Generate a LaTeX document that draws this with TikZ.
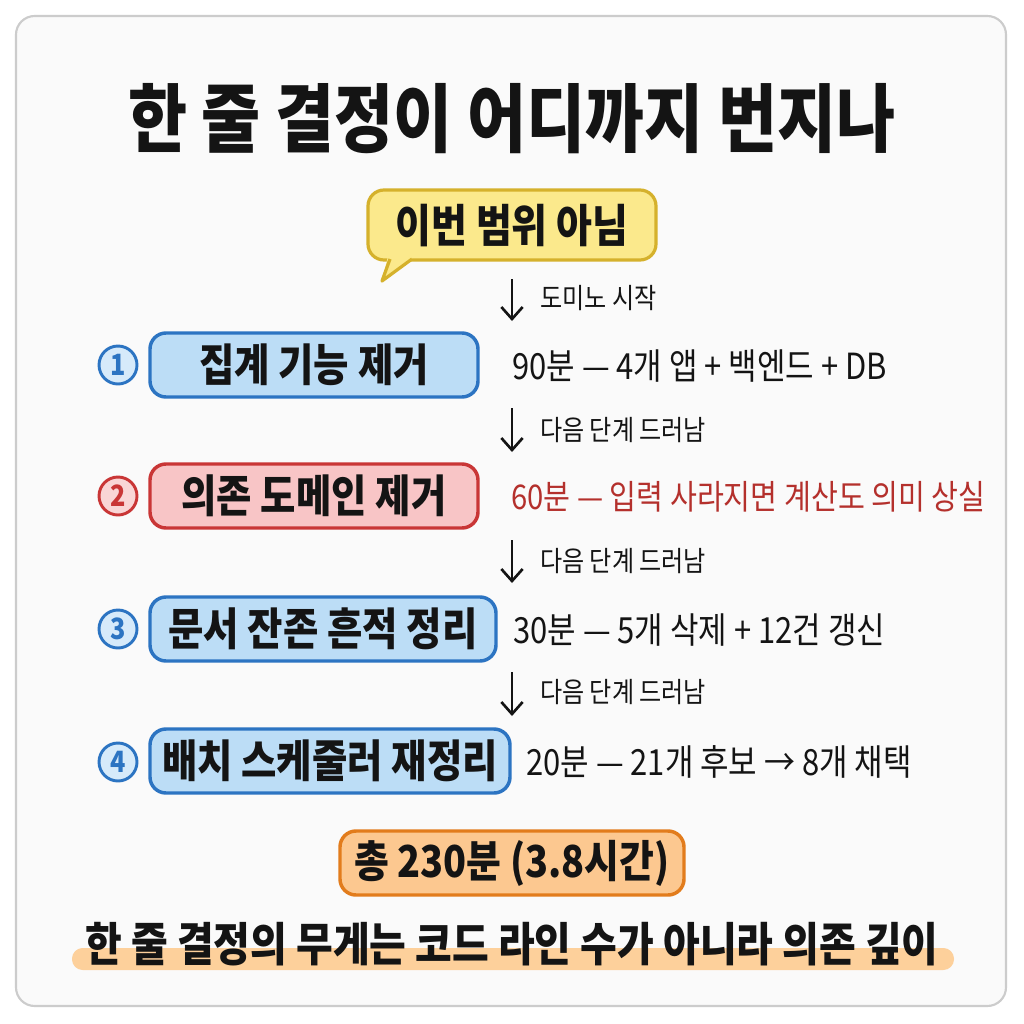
\documentclass[tikz,border=0pt]{standalone}
\usepackage{fontspec}
\newfontfamily\krfont[FakeStretch=0.86]{Noto Sans CJK KR}
\usetikzlibrary{arrows.meta}
\definecolor{bbord}{HTML}{2C74C2}
\definecolor{bfill}{HTML}{BCDDF6}
\definecolor{bcirc}{HTML}{D6EAFA}
\definecolor{rbord}{HTML}{C93636}
\definecolor{rfill}{HTML}{F8C5C6}
\definecolor{rcirc}{HTML}{F9D6D6}
\definecolor{ybord}{HTML}{D5B12C}
\definecolor{yfill}{HTML}{FBE98C}
\definecolor{obord}{HTML}{E27C1C}
\definecolor{ofill}{HTML}{FCC890}
\definecolor{hlc}{HTML}{FDD09B}
\definecolor{rtext}{HTML}{B4302C}
\definecolor{framec}{HTML}{CCCCCC}
\definecolor{ink}{HTML}{141414}
\tikzset{
  every node/.style={text=ink, font=\krfont},
  stepbox/.style={draw=#1bord, fill=#1fill, line width=2.6pt, rounded corners=12pt,
    minimum height=48pt, inner sep=0pt, font=\krfont\bfseries\fontsize{33.5}{38}\selectfont},
  numc/.style={circle, draw=#1bord, fill=#1circ, line width=2.2pt, minimum size=28.5pt,
    inner sep=0pt, text=#1bord, font=\krfont\bfseries\fontsize{22}{24}\selectfont},
  sidetxt/.style={anchor=west, inner sep=0pt, font=\krfont\fontsize{27}{30}\selectfont},
  arrlbl/.style={anchor=west, inner sep=0pt, font=\krfont\fontsize{21}{24}\selectfont},
  flowarrow/.style={draw=ink, line width=2pt, -{Straight Barb[length=9pt,width=16pt,line width=2pt]}},
}
\begin{document}
\begin{tikzpicture}[x=0.75pt,y=-0.75pt]
\useasboundingbox (0,0) rectangle (1024,1024);
\fill[white] (0,0) rectangle (1024,1024);
\draw[framec, line width=1.6pt, fill=white!98!black, rounded corners=14pt] (16,16) rectangle (1006,1006);

% title
\node[font=\krfont\bfseries\fontsize{56}{64}\selectfont] (title) at (512,119) {한 줄 결정이 어디까지 번지나};

% speech bubble
\node[draw=ybord, fill=yfill, line width=2.4pt, rounded corners=12pt, minimum width=216pt,
  minimum height=52.5pt, inner sep=0pt] (bubble) at (512,225) {};
\fill[yfill] (388,256) -- (382,281) -- (415,256) -- cycle;
\draw[ybord, line width=2.4pt, line join=round] (390,259) -- (382,281) -- (412,259);
\node[font=\krfont\bfseries\fontsize{34}{38}\selectfont] (bubbletxt) at (512,226) {이번 범위 아님};

% arrow 1
\coordinate (a1s) at (512,279);
\coordinate (a1e) at (512,321);
\draw[flowarrow] (a1s) -- (a1e);
\node[arrlbl] (l1) at (540,298) {도미노 시작};

% step 1
\node[numc=b] (n1) at (118,365) {1};
\node[stepbox=b, minimum width=246pt] (s1) at (314,365) {집계 기능 제거};
\node[sidetxt] (t1) at (512,366) {90분 — 4개 앱 + 백엔드 + DB};

% arrow 2
\coordinate (a2s) at (512,408);
\coordinate (a2e) at (512,452);
\draw[flowarrow] (a2s) -- (a2e);
\node[arrlbl] (l2) at (540,430) {다음 단계 드러남};

% step 2
\node[numc=r] (n2) at (118,496) {2};
\node[stepbox=r, minimum width=246pt] (s2) at (314,496) {의존 도메인 제거};
\node[sidetxt, text=rtext, font=\krfont\fontsize{25.5}{30}\selectfont] (t2) at (511,497) {60분 — 입력 사라지면 계산도 의미 상실};

% arrow 3
\coordinate (a3s) at (512,540);
\coordinate (a3e) at (512,583);
\draw[flowarrow] (a3s) -- (a3e);
\node[arrlbl] (l3) at (540,561) {다음 단계 드러남};

% step 3
\node[numc=b] (n3) at (118,629) {3};
\node[stepbox=b, minimum width=259.5pt] (s3) at (323,629) {문서 잔존 흔적 정리};
\node[sidetxt] (t3) at (513,630) {30분 — 5개 삭제 + 12건 갱신};

% arrow 4
\coordinate (a4s) at (512,672);
\coordinate (a4e) at (512,716);
\draw[flowarrow] (a4s) -- (a4e);
\node[arrlbl] (l4) at (540,692) {다음 단계 드러남};

% step 4
\node[numc=b] (n4) at (118,762) {4};
\node[stepbox=b, minimum width=270pt] (s4) at (330,761) {배치 스케줄러 재정리};
\node[sidetxt] (t4) at (526,762) {20분 — 21개 후보 → 8개 채택};

% total
\node[draw=obord, fill=ofill, line width=2.6pt, rounded corners=12pt, minimum width=258pt,
  minimum height=48pt, inner sep=0pt, font=\krfont\bfseries\fontsize{33}{38}\selectfont] (total) at (512,863) {총 230분 (3.8시간)};

% bottom line with highlight
\fill[hlc, rounded corners=8pt] (72,948) rectangle (954,970);
\node[font=\krfont\bfseries\fontsize{34.8}{40}\selectfont] (bottom) at (512,944) {한 줄 결정의 무게는 코드 라인 수가 아니라 의존 깊이};
\end{tikzpicture}
\end{document}
